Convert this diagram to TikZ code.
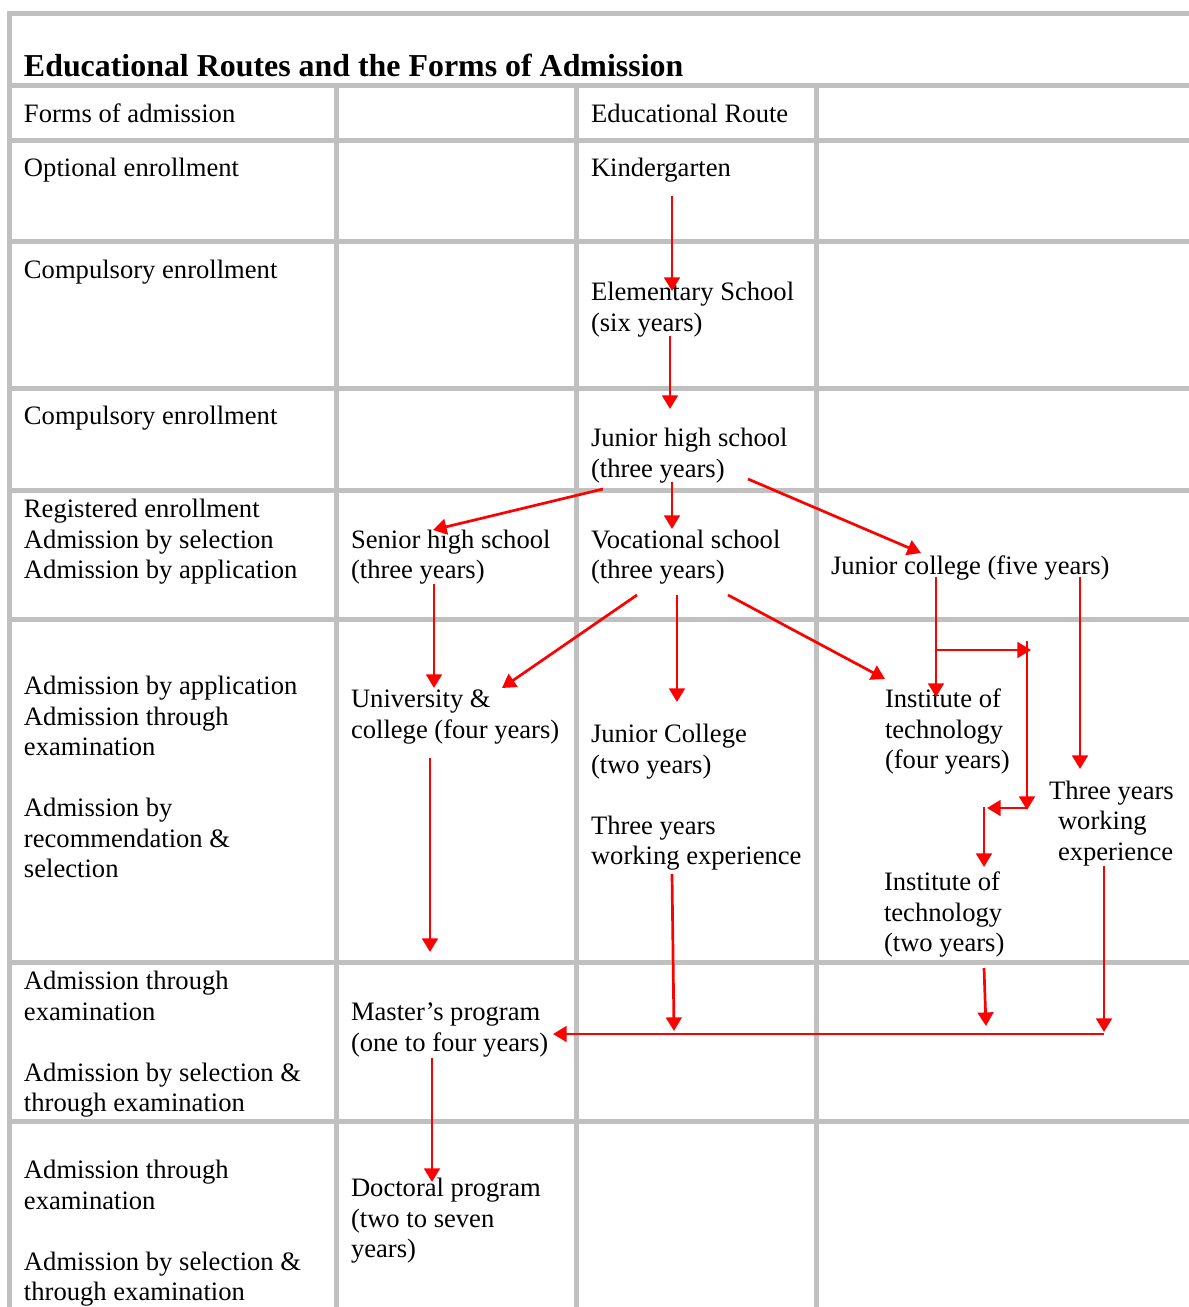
\documentclass[tikz,border=0pt]{standalone}
\usepackage{fontspec}
\setmainfont{Liberation Serif}
\usetikzlibrary{arrows.meta}
\definecolor{gridgray}{HTML}{C0C0C0}
\definecolor{arrred}{HTML}{FF0000}
\newcommand{\ml}[1]{\begin{tabular}[t]{@{}l@{}}#1\end{tabular}}
\begin{document}
\begin{tikzpicture}[x=0.5pt,y=-0.5pt,
  gridline/.style={draw=gridgray, line width=2.5pt},
  txt/.style={anchor=base west, inner sep=0pt, outer sep=0pt, font=\fontsize{13.3}{15.25}\selectfont},
  ttl/.style={anchor=base west, inner sep=0pt, outer sep=0pt, font=\fontsize{15.95}{19}\selectfont\bfseries},
  arr/.style={draw=arrred, line width=1.35pt, -{Triangle[length=6.8pt,width=7.8pt]}},
  rline/.style={draw=arrred, line width=1.35pt}]
\useasboundingbox (0,0) rectangle (1189,1307);
\clip (0,0) rectangle (1189,1307);
% grid
\draw[gridline] (9.5,10.5) -- (9.5,1312);
\foreach \yy in {13,85.5,140,241,388.5,490,619,962,1121}
  \draw[gridline] (7,\yy) -- (1195,\yy);
\foreach \xx in {336,576,816}
  \draw[gridline] (\xx,85.5) -- (\xx,1312);
% texts
\node[ttl] (title) at (24,76) {Educational Routes and the Forms of Admission};
\node[txt] (h1) at (24,122) {Forms of admission};
\node[txt] (h2) at (591,122) {Educational Route};
\node[txt] (f1) at (24,176) {Optional enrollment};
\node[txt] (kg) at (591,176) {Kindergarten};
\node[txt] (f2) at (24,278) {Compulsory enrollment};
\node[txt] (el) at (591,300.5) {\ml{Elementary School\\(six years)}};
\node[txt] (f3) at (24,424) {Compulsory enrollment};
\node[txt] (jh) at (591,446.5) {\ml{Junior high school\\(three years)}};
\node[txt] (f4) at (24,517.5) {\ml{Registered enrollment\\Admission by selection\\Admission by application}};
\node[txt] (sh) at (351,548) {\ml{Senior high school\\(three years)}};
\node[txt] (vs) at (591,548) {\ml{Vocational school\\(three years)}};
\node[txt] (jc5) at (831,574.5) {Junior college (five years)};
\node[txt] (f5) at (24,694.5) {\ml{Admission by application\\Admission through\\examination\\ \\Admission by\\recommendation \&\\selection}};
\node[txt] (uc) at (351,707.5) {\ml{University \&\\college (four years)}};
\node[txt] (jc2) at (591,742.5) {\ml{Junior College\\(two years)\\ \\Three years\\working experience}};
\node[txt] (it4) at (885,707.5) {\ml{Institute of\\technology\\(four years)}};
\node[txt] (twe) at (1049,799) {\ml{Three years\\\hspace{4.5pt}working\\\hspace{4.5pt}experience}};
\node[txt] (it2) at (884,890.5) {\ml{Institute of\\technology\\(two years)}};
\node[txt] (f6) at (24,989.5) {\ml{Admission through\\examination\\ \\Admission by selection \&\\through examination}};
\node[txt] (ms) at (351,1020.5) {\ml{Master’s program\\(one to four years)}};
\node[txt] (f7) at (24,1178.5) {\ml{Admission through\\examination\\ \\Admission by selection \&\\through examination}};
\node[txt] (dp) at (351,1196.5) {\ml{Doctoral program\\(two to seven\\years)}};
% arrow coordinates
\coordinate (a1s) at (672,196);  \coordinate (a1e) at (672,291);
\coordinate (a2s) at (670,336);  \coordinate (a2e) at (670,409);
\coordinate (a3s) at (603,489);  \coordinate (a3e) at (433,530);
\coordinate (a4s) at (672,482);  \coordinate (a4e) at (672,529);
\coordinate (a5s) at (748,479);  \coordinate (a5e) at (921,553);
\coordinate (a6s) at (434,584);  \coordinate (a6e) at (434,688);
\coordinate (a7s) at (637,595);  \coordinate (a7e) at (502,688);
\coordinate (a8s) at (677,595);  \coordinate (a8e) at (677,702);
\coordinate (a9s) at (728,595);  \coordinate (a9e) at (885,679);
\coordinate (a10s) at (936,577); \coordinate (a10e) at (936,697);
\coordinate (a11s) at (936,650); \coordinate (a11e) at (1031,650);
\coordinate (a12s) at (1027,641); \coordinate (a12e) at (1027,810);
\coordinate (a13s) at (1027,808); \coordinate (a13e) at (987,808);
\coordinate (a14s) at (984,807); \coordinate (a14e) at (984,867);
\coordinate (a15s) at (1080,577); \coordinate (a15e) at (1080,769);
\coordinate (a16s) at (1104,866); \coordinate (a16e) at (1104,1032);
\coordinate (a17s) at (1104,1034); \coordinate (a17e) at (553,1034);
\coordinate (a18s) at (672,874); \coordinate (a18e) at (674,1031);
\coordinate (a19s) at (984,968); \coordinate (a19e) at (986,1026);
\coordinate (a20s) at (430,758); \coordinate (a20e) at (430,952);
\coordinate (a21s) at (432,1058); \coordinate (a21e) at (432,1182);
\foreach \i in {1,...,21}
  \draw[arr] (a\i s) -- (a\i e);
\end{tikzpicture}
\end{document}
